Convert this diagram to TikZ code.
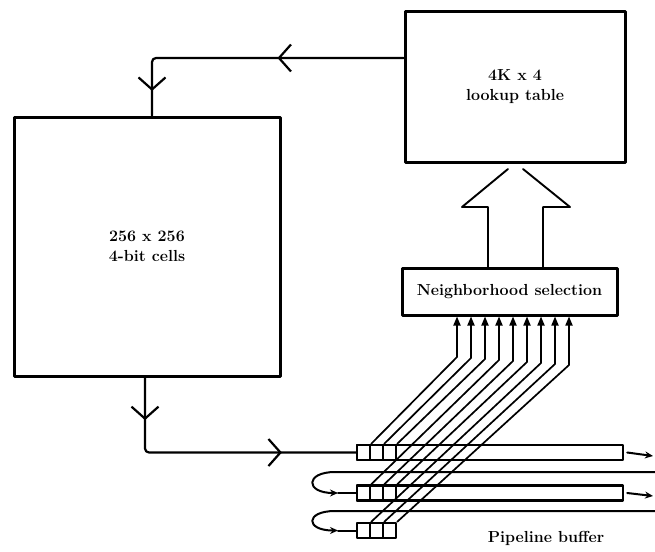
\documentclass[tikz,border=0pt]{standalone}
\usetikzlibrary{arrows.meta,decorations.markings}
\begin{document}
\begin{tikzpicture}[x=1pt, y=-1pt, line join=round, line cap=round,
  box/.style={draw, line width=3pt, inner sep=0pt, align=center, font=\fontsize{16}{20}\selectfont\bfseries},
  cell/.style={draw, line width=2.4pt, inner sep=0pt, minimum width=13pt, minimum height=15pt},
  conn/.style={line width=2.2pt},
  fb/.style={line width=2pt},
  tap/.style={line width=1.7pt, -{Triangle[length=9pt,width=7pt]}},
  vee/.style={postaction={decorate, decoration={markings, mark=at position #1 with {\arrow{Straight Barb[length=12pt,width=27pt]}}}}}]
\useasboundingbox (0,0) rectangle (655,551);
\node[box, minimum width=266pt, minimum height=259pt] (cells) at (147,246.5) {256 x 256\\4-bit cells};
\node[box, minimum width=220pt, minimum height=150pt] (lut) at (515,87) {4K x 4\\lookup table};
\node[box, minimum width=215pt, minimum height=47pt] (nsel) at (509.5,291.5) {Neighborhood selection};
\node[draw, line width=2.4pt, inner sep=0pt, minimum width=266pt, minimum height=15pt] (row1) at (490,452.5) {};
\node[draw, line width=2.4pt, inner sep=0pt, minimum width=266pt, minimum height=15pt] (row2) at (490,493) {};
\foreach \r/\y in {1/452.5, 2/493, 3/530.5}
  \foreach \c in {0,1,2}
    \node[cell] (c\r\c) at (363.5+13*\c, \y) {};
\node[font=\fontsize{16}{18}\selectfont\bfseries] (plabel) at (546,538) {Pipeline buffer};
\draw[conn, rounded corners=4pt, vee=0.41, vee=0.92] ([yshift=29pt]lut.west) -| ([xshift=5pt]cells.north);
\draw[conn, rounded corners=4pt, vee=0.15, vee=0.74] ([xshift=-2pt]cells.south) |- (row1.west);
\draw[line width=1.9pt] (488,268) -- (488,207) -- (462,207) -- (508,169);
\draw[line width=1.9pt] (543,268) -- (543,207) -- (570,207) -- (523,169);
\foreach \r/\c [count=\k from 0] in {1/0,1/1,1/2,2/0,2/1,2/2,3/0,3/1,3/2}
  \draw[tap] (c\r\c.north east) -- ({457+14*\k},{357+\k}) coordinate (b) -- (b |- nsel.south);
\coordinate (o1) at (653,456); \coordinate (o2) at (653,496);
\coordinate (r1) at (655,472); \coordinate (r2) at (655,511);
\draw[fb, -{Stealth[length=8pt,width=7pt]}] ([xshift=3pt]row1.east) -- (o1);
\draw[fb, -{Stealth[length=8pt,width=7pt]}] ([xshift=3pt]row2.east) -- (o2);
\draw[fb, -{Stealth[length=8pt,width=7pt]}] (r1) -- (335,472) .. controls (305,472) and (305,493) .. (338,493);
\draw[fb] (338,493) -- (c20.west);
\draw[fb, -{Stealth[length=8pt,width=7pt]}] (r2) -- (335,511) .. controls (305,511) and (305,530.5) .. (338,530.5);
\draw[fb] (338,530.5) -- (c30.west);
\end{tikzpicture}
\end{document}
